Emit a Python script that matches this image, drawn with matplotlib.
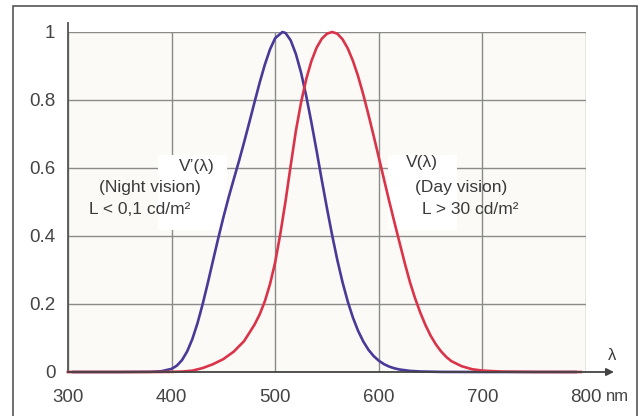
import matplotlib
matplotlib.use("Agg")
import matplotlib.pyplot as plt
from matplotlib.patches import Rectangle

plt.rcParams['font.family'] = ['Liberation Sans', 'DejaVu Sans']

# Photopic V(lambda) (day vision)
day_wl = [300, 350, 380, 390, 400, 410, 420, 430, 440, 450, 460, 470, 480, 485, 490, 495,
          500, 505, 510, 515, 520, 525, 530, 535, 540, 545, 550, 555, 560, 565, 570, 575,
          580, 585, 590, 595, 600, 605, 610, 615, 620, 625, 630, 635, 640, 645, 650, 655,
          660, 665, 670, 680, 690, 700, 720, 750, 795]
day_v = [0.0, 0.0, 0.00004, 0.00012, 0.0004, 0.0012, 0.004, 0.0116, 0.023, 0.038, 0.060,
         0.091, 0.139, 0.1693, 0.208, 0.2586, 0.323, 0.4073, 0.503, 0.6082, 0.710, 0.7932,
         0.862, 0.9149, 0.954, 0.9803, 0.995, 1.0, 0.995, 0.9786, 0.952, 0.9154, 0.870,
         0.8163, 0.757, 0.6949, 0.631, 0.5668, 0.503, 0.4412, 0.381, 0.321, 0.265, 0.217,
         0.175, 0.1382, 0.107, 0.0816, 0.061, 0.0446, 0.032, 0.017, 0.0082, 0.0041,
         0.00105, 0.00012, 0.0]

# Scotopic V'(lambda) (night vision)
night_wl = [305, 350, 380, 390, 400, 405, 410, 415, 420, 425, 430, 435, 440, 445, 450, 455,
            460, 465, 470, 475, 480, 485, 490, 495, 500, 507, 510, 515, 520, 525, 530, 535,
            540, 545, 550, 555, 560, 565, 570, 575, 580, 585, 590, 595, 600, 605, 610, 615,
            620, 630, 640, 660, 700, 790]
night_v = [0.0, 0.0, 0.0006, 0.0022, 0.0093, 0.0185, 0.0348, 0.0604, 0.0966, 0.1436, 0.1998,
           0.2625, 0.3281, 0.3931, 0.455, 0.513, 0.567, 0.620, 0.676, 0.734, 0.793, 0.851,
           0.904, 0.949, 0.982, 1.0, 0.997, 0.975, 0.935, 0.880, 0.811, 0.733, 0.650, 0.564,
           0.481, 0.402, 0.3288, 0.2639, 0.2076, 0.1602, 0.1212, 0.0899, 0.0655, 0.0469,
           0.0332, 0.0231, 0.0159, 0.0109, 0.0074, 0.0033, 0.0015, 0.0003, 0.0, 0.0]

x_ticks = [300, 400, 500, 600, 700, 800]
x_labels = ["300", "400", "500", "600", "700", "800"]
y_ticks = [0, 0.2, 0.4, 0.6, 0.8, 1.0]
y_labels = ["0", "0.2", "0.4", "0.6", "0.8", "1"]

BLUE = '#4a3a98'
RED = '#d9344a'
TXT = '#3a3a3a'
GRID = '#8a8a8a'
AX = '#555555'

fig = plt.figure(figsize=(6.4, 4.16), dpi=100)
fig.patch.set_facecolor('white')
ax = fig.add_axes([68/640, 44/416, 518/640, 340/416])
ax.set_facecolor('#fbfaf7')
ax.set_xlim(300, 800)
ax.set_ylim(0, 1)

for s in ['top', 'right', 'bottom']:
    ax.spines[s].set_visible(False)
ax.spines['left'].set_color(AX)
ax.spines['left'].set_linewidth(1.3)
ax.spines['left'].set_bounds(0, 1.027)

ax.set_xticks(x_ticks)
ax.set_xticklabels(x_labels)
ax.set_yticks(y_ticks)
ax.set_yticklabels(y_labels)
ax.tick_params(axis='both', length=0, labelsize=13.5, labelcolor='#444444')
ax.tick_params(axis='y', pad=9)
ax.tick_params(axis='x', pad=12)
ax.set_axisbelow(True)
ax.grid(True, color=GRID, linewidth=1.0)

# white label backgrounds hiding grid lines
ax.add_patch(Rectangle((387, 0.418), 66, 0.22, facecolor='white', edgecolor='none', zorder=1))
ax.add_patch(Rectangle((609, 0.418), 66, 0.22, facecolor='white', edgecolor='none', zorder=1))

ax.plot(night_wl, night_v, color=BLUE, linewidth=1.9, clip_on=False, zorder=3)
ax.plot(day_wl, day_v, color=RED, linewidth=1.9, clip_on=False, zorder=4)

# x axis with arrow
ax.annotate('', xy=(827, 0), xytext=(299.5, 0),
            arrowprops=dict(arrowstyle='-|>', color='#444444', lw=1.3, mutation_scale=11,
                            shrinkA=0, shrinkB=0),
            annotation_clip=False, zorder=5)
ax.text(825, 0.05, 'λ', fontsize=12, color=TXT, ha='center', va='center', clip_on=False)
ax.text(819.5, -0.086, 'nm', fontsize=12, color='#444444', ha='left', va='baseline', clip_on=False)

fs = 12.5
ax.text(424.5, 0.603, 'V’(λ)', fontsize=fs, color=TXT, ha='center', va='center', zorder=6)
ax.text(379, 0.544, '(Night vision)', fontsize=fs, color=TXT, ha='center', va='center', zorder=6)
ax.text(369.5, 0.479, 'L < 0,1 cd/m²', fontsize=fs, color=TXT, ha='center', va='center', zorder=6)
ax.text(641.7, 0.615, 'V(λ)', fontsize=fs, color=TXT, ha='center', va='center', zorder=6)
ax.text(679, 0.544, '(Day vision)', fontsize=fs, color=TXT, ha='center', va='center', zorder=6)
ax.text(688, 0.479, 'L > 30 cd/m²', fontsize=fs, color=TXT, ha='center', va='center', zorder=6)

# outer frame
fig.add_artist(Rectangle((13/640, -0.1), 624/640, 1.1 - 6/416, transform=fig.transFigure,
                         facecolor='none', edgecolor='#555555', linewidth=1.2))

fig.savefig('out.png', dpi=100)
